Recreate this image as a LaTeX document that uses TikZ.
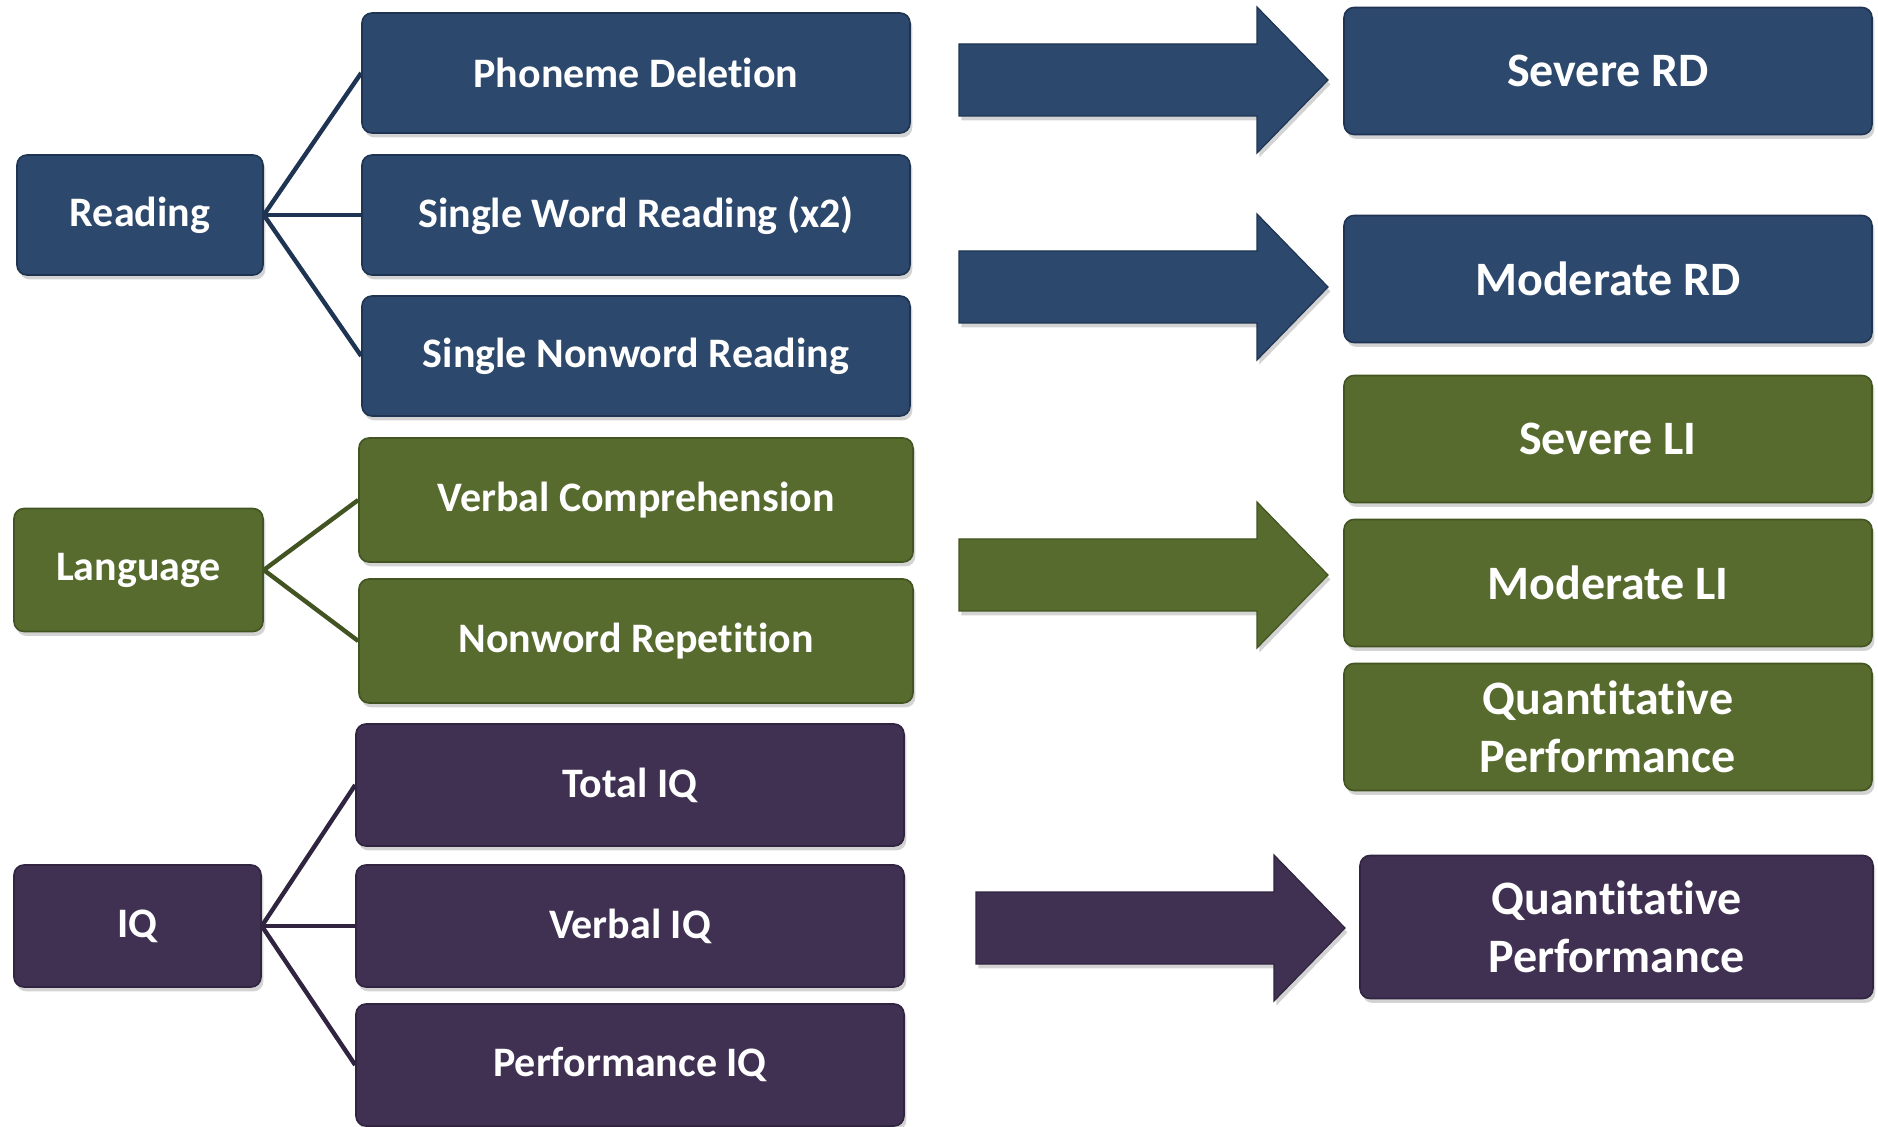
\documentclass[tikz,border=0pt]{standalone}
\usepackage{fontspec}
\setmainfont{Carlito}[Ligatures=NoCommon]
\usetikzlibrary{shadows}

\definecolor{readblue}{RGB}{44,72,108}
\definecolor{readedge}{RGB}{30,52,82}
\definecolor{langgreen}{RGB}{87,107,46}
\definecolor{langedge}{RGB}{66,84,33}
\definecolor{iqpurple}{RGB}{64,49,83}
\definecolor{iqedge}{RGB}{48,36,64}

\begin{document}
\begin{tikzpicture}[x=0.5pt,y=-0.5pt,
	box/.style={rounded corners=5pt, inner sep=0pt, align=center, text=white,
		line width=0.8pt, minimum height=60pt,
		font=\bfseries\fontsize{21}{25}\selectfont,
		drop shadow={shadow xshift=1.2pt, shadow yshift=-2.2pt, opacity=0.35}},
	readbox/.style={box, fill=readblue, draw=readedge},
	langbox/.style={box, fill=langgreen, draw=langedge},
	iqbox/.style={box, fill=iqpurple, draw=iqedge},
	outbox/.style={minimum width=264pt, minimum height=63.5pt,
		font=\bfseries\fontsize{24}{29}\selectfont},
	link/.style={line width=2.2pt}]
	\useasboundingbox (0,0) rectangle (1878,1127);
	% Reading %
	\node (reading) [readbox, minimum width=123pt] at (140,215) {Reading};
	\node (phoneme) [readbox, minimum width=274pt] at (636,73) {Phoneme Deletion};
	\node (wordread) [readbox, minimum width=274pt] at (636,215) {Single Word Reading (x2)};
	\node (nonwordread) [readbox, minimum width=274pt] at (636,356) {Single Nonword Reading};
	% Language %
	\node (language) [langbox, minimum width=124.5pt, minimum height=61.5pt] at (138.5,570) {Language};
	\node (verbcomp) [langbox, minimum width=277pt, minimum height=62pt] at (636,500) {Verbal Comprehension};
	\node (nonwordrep) [langbox, minimum width=277pt, minimum height=62pt] at (636,641) {Nonword Repetition};
	% IQ %
	\node (iq) [iqbox, minimum width=123.5pt, minimum height=61pt] at (137.5,926) {IQ};
	\node (totaliq) [iqbox, minimum width=274pt, minimum height=61pt] at (630,785) {Total IQ};
	\node (verbaliq) [iqbox, minimum width=274pt, minimum height=61pt] at (630,926) {Verbal IQ};
	\node (perfiq) [iqbox, minimum width=274pt, minimum height=61pt] at (630,1065) {Performance IQ};
	% Links %
	\draw [link, readedge] (reading.east) -- (phoneme.west);
	\draw [link, readedge] (reading.east) -- (wordread.west);
	\draw [link, readedge] (reading.east) -- (nonwordread.west);
	\draw [link, langedge] (language.east) -- (verbcomp.west);
	\draw [link, langedge] (language.east) -- (nonwordrep.west);
	\draw [link, iqedge] (iq.east) -- (totaliq.west);
	\draw [link, iqedge] (iq.east) -- (verbaliq.west);
	\draw [link, iqedge] (iq.east) -- (perfiq.west);
	% Outcomes %
	\node (severerd) [readbox, outbox] at (1608,71) {Severe RD};
	\node (moderaterd) [readbox, outbox] at (1608,279) {Moderate RD};
	\node (severeli) [langbox, outbox] at (1608,439) {Severe LI};
	\node (moderateli) [langbox, outbox] at (1608,583) {Moderate LI};
	\node (quantlang) [langbox, outbox] at (1608,727) {Quantitative\\Performance};
	\node (quantiq) [iqbox, outbox, minimum width=256.5pt, minimum height=71.5pt] at (1616.5,927) {Quantitative\\Performance};
	% Block Arrows %
	\foreach \ax/\ay/\col/\edge in {959/80/readblue/readedge, 959/287/readblue/readedge,
		959/575/langgreen/langedge, 976/928/iqpurple/iqedge}
		{\filldraw [fill=\col, draw=\edge, line width=0.6pt,
			drop shadow={shadow xshift=1.2pt, shadow yshift=-2.2pt, opacity=0.35}]
			(\ax,\ay-36) -- ++(298,0) -- ++(0,-37) -- ++(71,73) -- ++(-71,73)
			-- ++(0,-37) -- ++(-298,0) -- cycle;}
\end{tikzpicture}
\end{document}
